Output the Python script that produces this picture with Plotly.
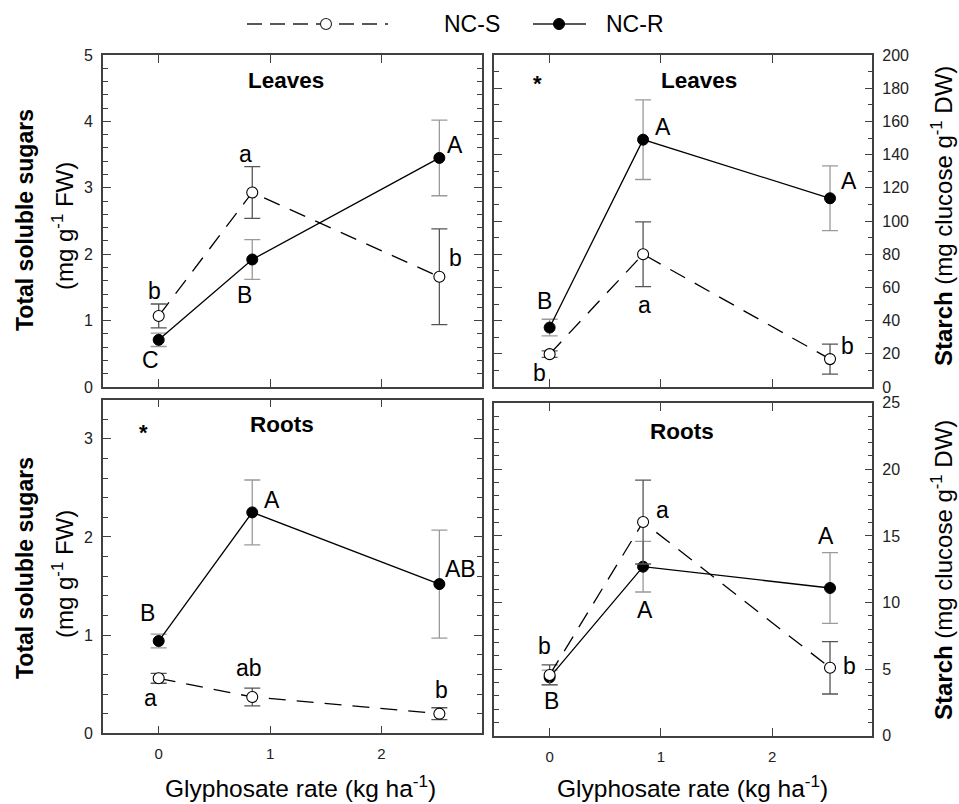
import plotly.graph_objects as go

W, H = 959, 804
FONT = "Arial, 'Liberation Sans', sans-serif"

# ---------------- data ----------------
x_rate = [0, 0.84, 2.52]

tss_leaves_S = [1.07, 2.93, 1.66]
tss_leaves_S_err = [0.18, 0.39, 0.72]
tss_leaves_R = [0.71, 1.92, 3.45]
tss_leaves_R_err = [0.10, 0.30, 0.57]

starch_leaves_S = [19.8, 80.0, 16.8]
starch_leaves_S_err = [2.0, 19.5, 9.0]
starch_leaves_R = [35.8, 149.0, 113.7]
starch_leaves_R_err = [5.0, 24.0, 19.5]

tss_roots_S = [0.56, 0.37, 0.20]
tss_roots_S_err = [0.05, 0.09, 0.06]
tss_roots_R = [0.94, 2.25, 1.52]
tss_roots_R_err = [0.07, 0.33, 0.55]

starch_roots_S = [4.56, 16.04, 5.10]
starch_roots_S_err = [0.75, 3.15, 1.97]
starch_roots_R = [4.38, 12.69, 11.09]
starch_roots_R_err = [0.55, 1.90, 2.65]

letters_tl_S = ["b", "a", "b"]
letters_tl_R = ["C", "B", "A"]
letters_tr_S = ["b", "a", "b"]
letters_tr_R = ["B", "A", "A"]
letters_bl_S = ["a", "ab", "b"]
letters_bl_R = ["B", "A", "AB"]
letters_br_S = ["b", "a", "b"]
letters_br_R = ["B", "A", "A"]

series_names = ["NC-S", "NC-R"]
panel_titles = ["Leaves", "Leaves", "Roots", "Roots"]
x_ticks = [0, 1, 2]

# ---------------- style ----------------
def px(v):
    return v / W

def py(v):
    return 1 - v / H

panels = [
    dict(ax="", xdom=[px(103), px(481.7)], ydom=[py(387), py(55)], yr=[0, 5], dt=1, mdt=0.2,
         side="left", xlabels=False,
         S=(tss_leaves_S, tss_leaves_S_err, letters_tl_S), R=(tss_leaves_R, tss_leaves_R_err, letters_tl_R),
         offS=[(-4, -23), (-7, -36), (16, -17)], offR=[(-8, 22), (-8, 37), (16, -11)],
         title=(1.14, 4.62), star=None),
    dict(ax="2", xdom=[px(494), px(872.3)], ydom=[py(387), py(55)], yr=[0, 200], dt=20, mdt=10,
         side="right", xlabels=False,
         S=(starch_leaves_S, starch_leaves_S_err, letters_tr_S), R=(starch_leaves_R, starch_leaves_R_err, letters_tr_R),
         offS=[(-10, 21), (1, 53), (17, -11)], offR=[(-5, -25), (20, -11), (19, -15)],
         title=(1.34, 184.7), star=(-0.11, 181)),
    dict(ax="3", xdom=[px(103), px(481.7)], ydom=[py(733.3), py(399.5)], yr=[0, 3.4], dt=1, mdt=0.2,
         side="left", xlabels=True,
         S=(tss_roots_S, tss_roots_S_err, letters_bl_S), R=(tss_roots_R, tss_roots_R_err, letters_bl_R),
         offS=[(-8, 22), (-3, -27), (2, -22)], offR=[(-11, -26), (20, -10), (21, -13)],
         title=(1.11, 3.15), star=(-0.135, 3.03)),
    dict(ax="4", xdom=[px(494), px(872.3)], ydom=[py(735.7), py(402.7)], yr=[0, 25], dt=5, mdt=1,
         side="right", xlabels=True,
         S=(starch_roots_S, starch_roots_S_err, letters_br_S), R=(starch_roots_R, starch_roots_R_err, letters_br_R),
         offS=[(-5, -27), (19, -10), (19, 0)], offR=[(2, 26), (2, 45), (-4, -50)],
         title=(1.19, 22.8), star=None),
]

AXC = "#404040"
fig = go.Figure()
annotations = []
shapes = []


def ann(**kw):
    d = dict(showarrow=False, xanchor="center", yanchor="middle")
    d.update(kw)
    annotations.append(d)


for i, p in enumerate(panels):
    xa = "x" + p["ax"]
    ya = "y" + p["ax"]
    yR, eR, lR = p["R"]
    yS, eS, lS = p["S"]
    fig.add_trace(go.Scatter(
        x=x_rate, y=yR, name=series_names[1], mode="lines+markers", xaxis=xa, yaxis=ya,
        line=dict(color="black", width=1.3),
        marker=dict(symbol="circle", size=11, color="black", line=dict(color="black", width=1)),
        error_y=dict(type="data", array=eR, visible=True, color="#9a9a9a", thickness=1.3, width=8),
        showlegend=False))
    fig.add_trace(go.Scatter(
        x=x_rate, y=yS, name=series_names[0], mode="lines+markers", xaxis=xa, yaxis=ya,
        line=dict(color="black", width=1.3, dash="17px,11px"),
        marker=dict(symbol="circle", size=11, color="white", line=dict(color="black", width=1.1)),
        error_y=dict(type="data", array=eS, visible=True, color="#555555", thickness=1.3, width=8),
        showlegend=False))

    xkey = "xaxis" + p["ax"]
    ykey = "yaxis" + p["ax"]
    fig.update_layout(**{
        xkey: dict(domain=p["xdom"], anchor=ya, range=[-0.5, 2.9], tickvals=x_ticks,
                   ticks="inside", ticklen=8, tickwidth=1.2, tickcolor=AXC, automargin=False,
                   showline=True, linecolor=AXC, linewidth=1.6, mirror="allticks",
                   showgrid=False, zeroline=False, showticklabels=p["xlabels"],
                   tickfont=dict(family=FONT, size=15, color="#222"), ticklabelstandoff=6),
        ykey: dict(domain=p["ydom"], anchor=xa, range=p["yr"], dtick=p["dt"], tick0=0,
                   side=p["side"], ticks="inside", ticklen=8, tickwidth=1.2, tickcolor=AXC,
                   automargin=False,
                   minor=dict(dtick=p["mdt"], ticks="inside", ticklen=5, tickcolor=AXC, tickwidth=1),
                   showline=True, linecolor=AXC, linewidth=1.6, mirror="allticks",
                   showgrid=False, zeroline=False,
                   tickfont=dict(family=FONT, size=16, color="#222"), ticklabelstandoff=5),
    })

    for j in range(3):
        for (vals, labs, offs) in ((yS, lS, p["offS"]), (yR, lR, p["offR"])):
            dx, dy = offs[j]
            ann(x=x_rate[j], y=vals[j], xref=xa, yref=ya, text=labs[j],
                xshift=dx, yshift=-dy + 2,
                font=dict(family=FONT, size=23, color="black"))
    tx, ty = p["title"]
    ann(x=tx, y=ty, xref=xa, yref=ya, text="<b>" + panel_titles[i] + "</b>",
        font=dict(family=FONT, size=22.5, color="black"))
    if p["star"]:
        sx, sy = p["star"]
        ann(x=sx, y=sy, xref=xa, yref=ya, text="<b>*</b>", yshift=3,
            font=dict(family=FONT, size=22, color="black"))

# axis titles
for yc in (220, 568):
    ann(x=px(25), y=py(yc), xref="paper", yref="paper", textangle=-90,
        text="<b>Total soluble sugars</b>",
        font=dict(family=FONT, size=23, color="black"))
    ann(x=px(63), y=py(yc + 6), xref="paper", yref="paper", textangle=-90,
        text="(mg g<sup>-1</sup> FW)",
        font=dict(family=FONT, size=24, color="black"))
for yc in (216, 570):
    ann(x=px(942), y=py(yc), xref="paper", yref="paper", textangle=-90,
        text="<b>Starch</b> (mg clucose g<sup>-1</sup> DW)",
        font=dict(family=FONT, size=24, color="black"))
for xc in (300, 692):
    ann(x=px(xc), y=py(786), xref="paper", yref="paper",
        text="Glyphosate rate (kg ha<sup>-1</sup>)",
        font=dict(family=FONT, size=24.5, color="black"))

# legend (drawn manually to match the reference layout)
ly = py(24)
r = 5.5
shapes.append(dict(type="line", xref="paper", yref="paper", x0=px(247), x1=px(388), y0=ly, y1=ly,
                   line=dict(color="#222", width=1.3, dash="15px,8px")))
shapes.append(dict(type="circle", xref="paper", yref="paper", x0=px(326 - r), x1=px(326 + r),
                   y0=ly - r / H, y1=ly + r / H, fillcolor="white", line=dict(color="#222", width=1.1)))
shapes.append(dict(type="line", xref="paper", yref="paper", x0=px(533), x1=px(586), y0=ly, y1=ly,
                   line=dict(color="#222", width=1.3)))
shapes.append(dict(type="circle", xref="paper", yref="paper", x0=px(559 - r), x1=px(559 + r),
                   y0=ly - r / H, y1=ly + r / H, fillcolor="black", line=dict(color="black", width=1)))
ann(x=px(472), y=ly, xref="paper", yref="paper", text=series_names[0],
    font=dict(family=FONT, size=23, color="black"))
ann(x=px(635), y=ly, xref="paper", yref="paper", text=series_names[1],
    font=dict(family=FONT, size=23, color="black"))

fig.update_layout(template="none", width=W, height=H, margin=dict(l=0, r=0, t=0, b=0, pad=0),
                  paper_bgcolor="white", plot_bgcolor="white",
                  annotations=annotations, shapes=shapes, showlegend=False,
                  font=dict(family=FONT))

fig.write_html("out.html")
